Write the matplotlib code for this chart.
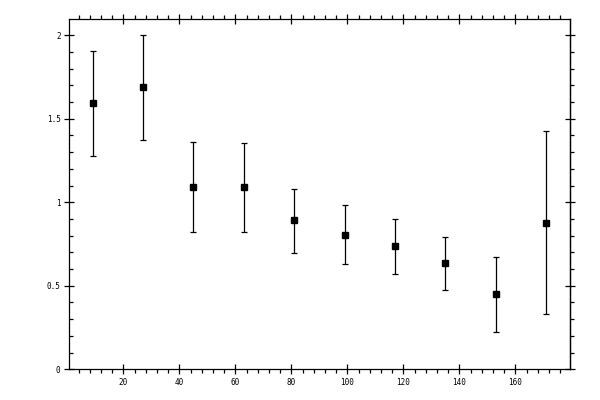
import numpy as np
import matplotlib
matplotlib.use('Agg')
from matplotlib import pyplot as plt
from matplotlib.ticker import MultipleLocator, FormatStrFormatter

#------------------------data------------------------------
x_centers = [9, 27, 45, 63, 81, 99, 117, 135, 153, 171]
y_values = [1.593, 1.689, 1.090, 1.090, 0.892, 0.802, 0.737, 0.635, 0.449, 0.874]
y_upper = [1.906, 2.004, 1.363, 1.357, 1.081, 0.982, 0.898, 0.794, 0.671, 1.425]
y_lower = [1.275, 1.371, 0.820, 0.820, 0.695, 0.629, 0.569, 0.473, 0.222, 0.329]

err_low = np.array(y_values) - np.array(y_lower)
err_high = np.array(y_upper) - np.array(y_values)

plt.rcParams['font.family'] = ['DejaVu Sans Mono']
plt.rcParams['font.size'] = 5.5

fig = plt.figure(figsize=(6, 4), dpi=100)
ax = fig.add_axes([0.1155, 0.077, 0.8345, 0.875])

ax.errorbar(x_centers, y_values, yerr=[err_low, err_high], fmt='s', color='black',
            markersize=5, elinewidth=0.9, capsize=2.5, capthick=0.9)

ax.set_xlim(0.7, 179.5)
ax.set_ylim(0, 2.096)

for s in ax.spines.values():
    s.set_linewidth(0.9)

ax.xaxis.set_major_locator(MultipleLocator(20))
ax.xaxis.set_minor_locator(MultipleLocator(4))
ax.yaxis.set_major_locator(MultipleLocator(0.5))
ax.yaxis.set_minor_locator(MultipleLocator(0.1))
ax.yaxis.set_major_formatter(FormatStrFormatter('%g'))
ax.xaxis.set_major_formatter(lambda v, p: '' if v == 0 else '%g' % v)

ax.tick_params(axis='x', which='major', direction='inout', length=6.5, width=0.9,
               top=True, bottom=True, pad=3)
ax.tick_params(axis='x', which='minor', direction='out', length=3, width=0.9,
               top=True, bottom=True)
ax.tick_params(axis='y', which='major', direction='inout', length=6.5, width=0.9,
               left=True, right=False, pad=3)
ax.tick_params(axis='y', which='minor', direction='in', length=3, width=0.9,
               left=True, right=False)

# right side ticks point outward
sec = ax.secondary_yaxis('right')
sec.yaxis.set_major_locator(MultipleLocator(0.5))
sec.yaxis.set_minor_locator(MultipleLocator(0.1))
sec.tick_params(which='major', direction='inout', length=6.5, width=0.9, labelright=False)
sec.tick_params(which='minor', direction='out', length=3, width=0.9)
sec.spines['right'].set_linewidth(0.9)

plt.savefig('out.png', dpi=100)
